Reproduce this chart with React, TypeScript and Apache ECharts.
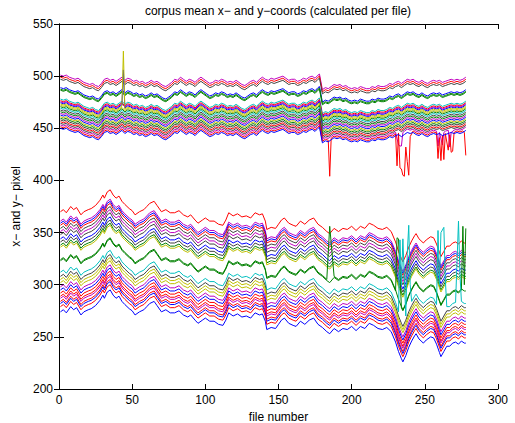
import React, { useEffect, useRef } from "react";
import * as echarts from "echarts";

const TITLE = "corpus mean x\u2212 and y\u2212coords (calculated per file)";
const X_NAME = "file number";
const Y_NAME = "x\u2212 and y\u2212 pixel";

// Upper group: reference line (top magenta), [file, value]
const upperTopLine: [number, number][] = [[1,501],[3,500],[5,501],[7,499],[9,498],[11,497],[13,498],[15,496],[17,494],[19,493],[21,492],[23,493],[25,491],[27,490],[29,493],[31,497],[33,498],[35,496],[37,497],[39,495],[41,497],[43,499],[45,496],[47,498],[49,497],[51,495],[53,496],[55,494],[57,495],[59,493],[61,494],[63,496],[65,494],[67,495],[69,493],[71,491],[73,490],[75,492],[77,494],[79,497],[81,496],[83,499],[85,497],[87,495],[89,497],[91,496],[93,494],[95,497],[97,499],[99,497],[101,495],[103,493],[105,494],[107,496],[109,495],[111,497],[113,496],[115,494],[117,495],[119,494],[121,496],[123,494],[125,492],[127,491],[129,493],[131,495],[133,496],[135,494],[137,497],[139,499],[141,497],[143,496],[145,498],[147,497],[149,498],[151,499],[153,500],[155,498],[157,496],[159,497],[161,497],[163,495],[165,496],[167,498],[169,497],[171,499],[173,500],[175,498],[177,501],[178,502],[180,487],[182,489],[184,488],[186,490],[188,492],[190,491],[192,492],[194,490],[196,491],[198,489],[200,488],[202,489],[204,488],[206,490],[208,489],[210,488],[212,488],[214,490],[216,489],[218,491],[220,490],[222,490],[224,491],[226,493],[228,492],[230,494],[232,495],[234,493],[236,495],[238,497],[240,496],[242,497],[244,495],[246,494],[248,496],[250,494],[252,493],[254,495],[256,496],[258,495],[260,496],[262,494],[264,495],[266,496],[268,497],[270,496],[272,497],[274,496],[276,497],[278,499]];

// offsets of each upper line from the top line, with colours
const upperOffsets = [0, -2, -4, -12, -13.5, -14.5, -23, -24.5, -25.5, -26.5, -27.7, -29, -30.3, -31.8, -33.5, -35.1, -36.7, -38.3, -39.9, -41.4, -43, -44.7, -46.2, -47.8, -49.5, -51];
const upperColors = ["m", "r", "k", "b", "g", "g", "c", "r", "m", "b", "y", "y", "g", "c", "k", "g", "m", "b", "y", "g", "k", "r", "k", "m", "r", "b"];

// Lower group: reference line (bottom blue), [file, value]
const lowerBottomLine: [number, number][] = [[1,274],[3,276],[5,273],[8,279],[10,276],[12,278],[15,271],[17,274],[20,276],[22,277],[25,280],[28,285],[30,290],[31,287],[33,293],[35,295],[37,290],[39,287],[41,289],[43,284],[45,281],[48,277],[50,275],[52,271],[55,274],[58,276],[60,279],[62,282],[65,284],[67,280],[70,274],[73,276],[76,273],[79,273],[82,275],[85,271],[88,269],[90,271],[93,266],[95,263],[98,266],[100,268],[103,265],[106,265],[109,262],[112,261],[114,266],[116,273],[119,270],[122,272],[125,269],[128,270],[131,268],[134,273],[137,271],[139,272],[141,265],[142,257],[145,259],[148,258],[150,262],[152,266],[154,268],[157,263],[160,261],[162,260],[165,265],[168,262],[171,266],[174,268],[177,262],[180,259],[183,255],[185,253],[188,258],[191,255],[194,258],[197,257],[200,260],[203,256],[206,260],[209,258],[212,263],[215,261],[218,258],[221,257],[224,259],[227,255],[230,245],[232,236],[234,229],[235,226],[237,232],[239,240],[241,246],[243,251],[244,253],[246,248],[249,244],[251,247],[254,250],[256,249],[258,243],[260,235],[261,231],[263,236],[265,241],[267,241],[269,244],[271,245],[273,243],[275,246],[277,244],[278,244]];

const lowerOffsets = [96, 87, 85, 83, 80, 77, 74, 70, 67, 64, 62, 50, 49, 38, 34, 31, 28, 24, 21, 18, 15, 13, 10, 8, 5, 0];
const lowerColors = ["r", "m", "b", "r", "k", "m", "k", "b", "k", "g", "y", "g", "g", "c", "k", "y", "y", "m", "b", "r", "r", "m", "r", "b", "r", "b"];

// isolated outliers: [file, value]
const upperBlueSpike: [number, number][] = [[44, 506]];
const upperOliveSpike: [number, number][] = [[44, 524]];
const upperMagentaDips: [number, number][] = [[232, 434], [233, 433], [234, 433], [235, 446], [259, 433], [260, 446], [262, 434], [263, 446], [267, 432], [268, 446]];
const upperRedDips: [number, number][] = [[185, 404], [231, 414], [233, 412], [234, 411], [235, 405], [236, 404], [237, 432], [238, 418], [239, 405], [240, 442], [259, 421], [260, 441], [261, 419], [262, 443], [263, 420], [264, 445], [266, 429], [267, 444], [268, 427], [269, 428], [270, 446], [277, 446], [278, 424]];
const lowerGreenSpikeA: [number, number][] = [[185, 356]];
const lowerGreenSpikeB: [number, number][] = [[231, 345], [232, 344], [276, 356], [277, 300], [278, 354]];
const lowerCyanSpikes: [number, number][] = [[233, 343], [234, 300], [235, 344], [238, 330], [239, 357], [240, 300], [259, 352], [260, 300], [261, 350], [263, 355], [264, 305], [273, 361], [274, 310]];

const upperOverrides: Record<number, [number, number][]> = { 9: upperBlueSpike, 10: upperOliveSpike, 23: upperMagentaDips, 24: upperRedDips };
const lowerOverrides: Record<number, [number, number][]> = { 11: lowerGreenSpikeA, 12: lowerGreenSpikeB, 13: lowerCyanSpikes };

const COLOR_MAP: Record<string, string> = {
  r: "#ff0000",
  b: "#0000ff",
  g: "#008000",
  c: "#00bfbf",
  m: "#bf00bf",
  y: "#bfbf00",
  k: "#404040",
};

const FONT = "Liberation Sans, Arial, Helvetica, sans-serif";

function buildLine(base: [number, number][], offset: number, overrides?: [number, number][]) {
  const map = new Map<number, number>();
  base.forEach(([x, y]) => map.set(x, y + offset));
  (overrides || []).forEach(([x, y]) => map.set(x, y));
  return Array.from(map.entries()).sort((a, b) => a[0] - b[0]);
}

export default function App() {
  const ref = useRef<HTMLDivElement>(null);
  useEffect(() => {
    if (!ref.current) return;
    const chart = echarts.init(ref.current, undefined, { renderer: "svg" });
    const series: any[] = [];
    lowerOffsets.forEach((off, i) => {
      series.push({
        type: "line",
        data: buildLine(lowerBottomLine, off, lowerOverrides[i]),
        showSymbol: false,
        symbol: "none",
        silent: true,
        lineStyle: { width: 1, color: COLOR_MAP[lowerColors[i]] },
      });
    });
    upperOffsets.forEach((off, i) => {
      series.push({
        type: "line",
        data: buildLine(upperTopLine, off, upperOverrides[i]),
        showSymbol: false,
        symbol: "none",
        silent: true,
        lineStyle: { width: 1, color: COLOR_MAP[upperColors[i]] },
      });
    });
    const axisCommon = {
      axisLine: { show: true, lineStyle: { color: "#000", width: 1 } },
      axisTick: { show: true, inside: true, length: 5, lineStyle: { color: "#000" } },
      splitLine: { show: false },
    };
    chart.setOption({
      animation: false,
      backgroundColor: "#ffffff",
      grid: { left: 59, right: 17, top: 24, bottom: 34, containLabel: false, outerBoundsMode: "none" },
      graphic: [
        {
          type: "text",
          x: 278,
          y: 5,
          style: { text: TITLE, textAlign: "center", font: `12px ${FONT}`, fill: "#000" },
        },
      ],
      xAxis: [
        {
          type: "value",
          min: 0,
          max: 300,
          interval: 50,
          name: X_NAME,
          nameLocation: "middle",
          nameGap: 22,
          nameTextStyle: { color: "#000", fontSize: 12, fontFamily: FONT },
          axisLabel: { color: "#000", fontSize: 12, fontFamily: FONT, margin: 5 },
          ...axisCommon,
        },
        {
          type: "value",
          position: "top",
          min: 0,
          max: 300,
          interval: 50,
          axisLabel: { show: false },
          ...axisCommon,
        },
      ],
      yAxis: [
        {
          type: "value",
          min: 200,
          max: 550,
          interval: 50,
          name: Y_NAME,
          nameLocation: "middle",
          nameGap: 36,
          nameTextStyle: { color: "#000", fontSize: 12, fontFamily: FONT },
          axisLabel: { color: "#000", fontSize: 12, fontFamily: FONT, margin: 6 },
          ...axisCommon,
        },
        {
          type: "value",
          position: "right",
          min: 200,
          max: 550,
          interval: 50,
          axisLabel: { show: false },
          ...axisCommon,
        },
      ],
      series,
    });
    return () => chart.dispose();
  }, []);
  return (
    <div
      ref={ref}
      style={{ position: "fixed", left: 0, top: 0, width: 515, height: 423, background: "#fff" }}
    />
  );
}
